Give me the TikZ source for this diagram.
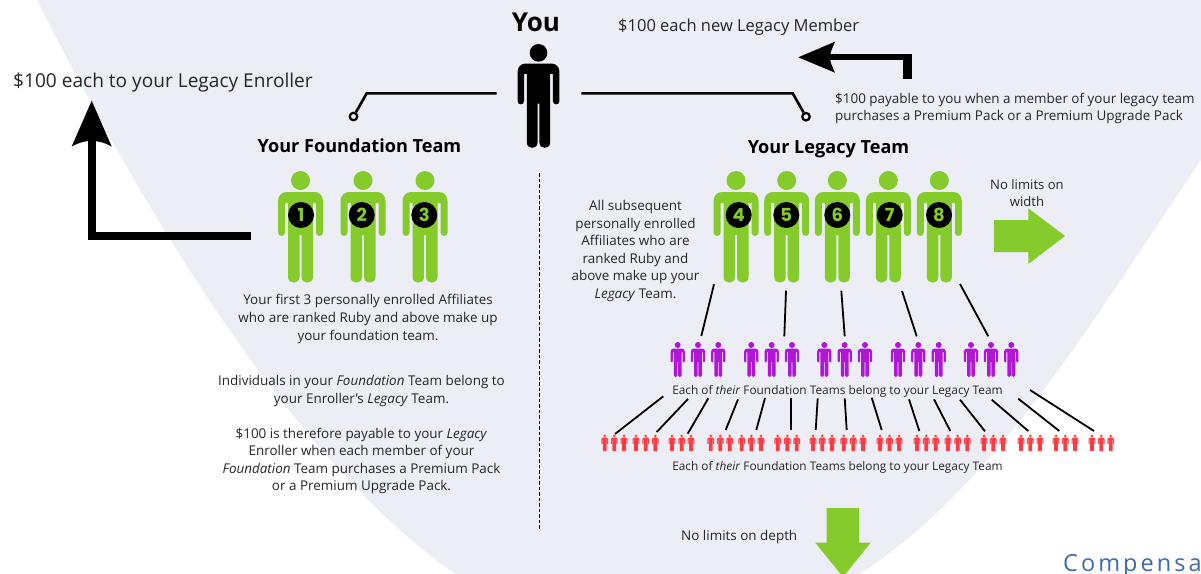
\documentclass[tikz,border=0pt]{standalone}
\usepackage{fontspec}
\setmainfont{Open Sans}
\newfontfamily\numfont{Poppins}
\definecolor{ink}{HTML}{262629}
\definecolor{limeg}{HTML}{84CB2B}
\definecolor{purp}{HTML}{B116D6}
\definecolor{redp}{HTML}{FF3B41}
\definecolor{bgfun}{HTML}{EDEEF5}
\definecolor{compblue}{HTML}{3F6BAE}
\newfontfamily\spaced[LetterSpace=13]{Open Sans}
\newcommand{\conn}[3]{\coordinate (#1a) at (#2);\coordinate (#1b) at (#3);\draw[tie] (#1a) -- (#1b);}
\tikzset{
  person/.pic={
    \fill[pic actions] (0,9.5) circle[radius=9.5];
    \fill[pic actions] (-14,21) -- (14,21) .. controls (19,21) and (22.5,25) .. (22.5,30) -- (22.5,61.5)
      .. controls (22.5,66) and (15.5,66) .. (15.5,61.5) -- (15.5,32) -- (12.5,32) -- (12.5,106)
      .. controls (12.5,113.5) and (1,113.5) .. (1,106) -- (1,64) -- (-1,64) -- (-1,106)
      .. controls (-1,113.5) and (-12.5,113.5) .. (-12.5,106) -- (-12.5,32) -- (-15.5,32) -- (-15.5,61.5)
      .. controls (-15.5,66) and (-22.5,66) .. (-22.5,61.5) -- (-22.5,30)
      .. controls (-22.5,25) and (-19,21) .. (-14,21) -- cycle;
  },
  tie/.style={line width=1.8pt,black},
  ring/.style={circle,draw=black,line width=2.2pt,fill=bgfun,minimum size=7.5pt,inner sep=0pt},
  wire/.style={line width=2.6pt,black},
  numdisc/.style={circle,fill=black,text=limeg,minimum size=26pt,inner sep=0pt,font=\numfont\bfseries\fontsize{18}{18}\selectfont},
  body/.style={inner sep=0pt,align=center,text=ink,font=\fontsize{13.45}{17.6}\selectfont},
  small/.style={inner sep=0pt,align=center,text=ink,font=\fontsize{11.85}{14}\selectfont},
  head/.style={inner sep=0pt,text=black,font=\bfseries\fontsize{18.1}{20}\selectfont},
  big/.style={inner sep=0pt,anchor=west,text=ink,font=\fontsize{19.1}{22}\selectfont},
}
\begin{document}
\begin{tikzpicture}[x=1pt,y=-1pt]
\useasboundingbox (0,0) rectangle (1201,573);
\fill[white] (0,0) rectangle (1201,573);
% funnel background
\begin{scope}
\clip (0,0) rectangle (1201,573);
\fill[bgfun]
  (37,0) .. controls (140,205) and (295,465) .. (457,575)
  -- (858,575) .. controls (990,490) and (1080,340) .. (1201,160)
  -- (1201,0) -- cycle;
\end{scope}

% You
\node[inner sep=0pt,text=black,font=\bfseries\fontsize{26}{28}\selectfont] (you) at (536,22) {You};
\pic[fill=black,scale=.93] (youfig) at (538.5,44) {person};

% connectors with rings
\node[ring] (ringL) at (353.5,116.5) {};
\node[ring] (ringR) at (806,116.7) {};
\coordinate (lstart) at (496.7,93.3);
\coordinate (lbend) at (366.7,93.3);
\coordinate (rstart) at (581.3,93.3);
\coordinate (rbend) at (792.7,93.3);
\draw[wire] (lstart) -- (lbend) -- (ringL);
\draw[wire] (rstart) -- (rbend) -- (ringR);

% dashed divider
\coordinate (dtop) at (539.5,173);
\coordinate (dbot) at (539.5,530);
\draw[line width=1.9pt,black,dash pattern=on 3.5pt off 2pt] (dtop) -- (dbot);

% top texts
\node[big] (t100L) at (13,82.5) {\$100 each to your Legacy Enroller};
\node[big,font=\fontsize{16.5}{18}\selectfont] (t100R) at (618,27) {\$100 each new Legacy Member};
\node[body,anchor=west,align=left,font=\fontsize{13.45}{17}\selectfont] (tpay) at (835,108)
  {\$100 payable to you when a member of your legacy team\\purchases a Premium Pack or a Premium Upgrade Pack};
\node[head] (hfound) at (359.5,146) {Your Foundation Team};
\node[head] (hlegacy) at (828.5,149) {Your Legacy Team};

% left arrow
\coordinate (la) at (250.7,236);
\coordinate (lc) at (91.7,236);
\coordinate (lt) at (91.7,132);
\draw[line width=8pt,black] (la) -- (lc) -- (lt);
\fill[black] (91.7,100.7) -- (111.7,146.5) .. controls (103,142) and (98,141) .. (91.7,141)
  .. controls (85,141) and (80,142) .. (71.7,146.5) -- cycle;

% right top arrow
\coordinate (ra) at (907.5,79.3);
\coordinate (rc) at (907.5,57);
\coordinate (rt) at (822,57);
\draw[line width=6.5pt,black] (rc) -- (rt);
\draw[line width=8.4pt,black] (ra) -- (907.5,53.8);
\fill[black] (798.3,57.3) -- (835,41.7) .. controls (831.5,50) and (830,53) .. (830,57.3)
  .. controls (830,62) and (831.5,65) .. (835,72.7) -- cycle;

% green figures
\foreach \n/\px/\dx in {1/300.5/301,2/363/361.7,3/425/424.3,4/736/738.7,5/786.7/786.3,6/837.3/837.3,7/888.3/889.7,8/939.3/939}{
  \pic[fill=limeg] (g\n) at (\px,171) {person};
  \node[numdisc] (n\n) at (\dx,215) {\n};
}

% green arrows
\fill[limeg] (994,220) -- (1028.3,220) -- (1028.3,208.3) -- (1065,236) -- (1028.3,264) -- (1028.3,252) -- (994,252) -- cycle;
\fill[limeg] (826.7,508) -- (859,508) -- (859,542.7) -- (870.7,542.7) -- (843,577) -- (815.3,542.7) -- (826.7,542.7) -- cycle;

% texts
\node[body] (tfirst) at (368,319) {Your first 3 personally enrolled Affiliates\\who are ranked Ruby and above make up\\your foundation team.};
\node[body] (tindiv) at (361.5,391) {Individuals in your \textit{Foundation} Team belong to\\your Enroller's \textit{Legacy} Team.};
\node[body] (tpayable) at (361.5,461) {\$100 is therefore payable to your \textit{Legacy}\\Enroller when each member of your\\\textit{Foundation} Team purchases a Premium Pack\\or a Premium Upgrade Pack.};
\node[body] (tsub) at (635.5,251) {All subsequent\\personally enrolled\\Affiliates who are\\ranked Ruby and\\above make up your\\\textit{Legacy} Team.};
\node[body,font=\fontsize{13.1}{16.6}\selectfont] (twidth) at (1027,193) {No limits on\\width};
\node[small] (teach1) at (837.5,391.5) {Each of \textit{their} Foundation Teams belong to your Legacy Team};
\node[small] (teach2) at (837.5,467.5) {Each of \textit{their} Foundation Teams belong to your Legacy Team};
\node[body,anchor=west] (tdepth) at (681,537) {No limits on depth};
\node[inner sep=0pt,anchor=base west,text=compblue,font=\spaced\fontsize{23.5}{26}\selectfont] (tcomp) at (1063,571) {Compensa};

% purple figures
\foreach \px [count=\i] in {677.7,698,718.3,751.3,771.7,792,824.3,844.7,865,898,918.3,938.7,971,991,1011.3}{
  \pic[fill=purp,scale=.315] (pp\i) at (\px,342) {person};
}
% red figures
\foreach \px [count=\i] in {604.7,614.3,624,636,645.7,655.3,672,681.7,691,710.7,720.3,729.7,741.7,751.3,761,777.7,787.3,796.7,813,822.3,832,843.7,853.3,863,880,889.5,899,917,926.3,935.7,948,957.7,967.3,984,993.3,1003,1021,1030.3,1040,1056,1065.3,1075,1092,1101.3,1110.7}{
  \pic[fill=redp,scale=.152] (rp\i) at (\px,434.5) {person};
}

% ties green to purple
\conn{u1}{714,284.3}{701.3,336}
\conn{u2}{786,290.7}{784.3,336.3}
\conn{u3}{841.3,290.7}{844.7,336.3}
\conn{u4}{902,291}{916.7,336.3}
\conn{u5}{960,284}{988.3,336.3}
% ties purple to red
\conn{v1}{663.3,396.3}{615,434}
\conn{v2}{688,399}{656.7,432}
\conn{v3}{708.3,398.3}{687.7,433.7}
\conn{v4}{738,399.3}{725.7,430}
\conn{v5}{765,398}{756.3,430}
\conn{v6}{791,398.3}{791,430}
\conn{v7}{817.7,398.3}{815.7,430}
\conn{v8}{844.7,398.3}{846.7,430}
\conn{v9}{871.7,397.7}{881.7,430}
\conn{v10}{909,399.3}{919.3,431}
\conn{v11}{934,399.3}{950.3,431}
\conn{v12}{960,399.7}{985,431.3}
\conn{v13}{991.7,399.7}{1028.3,431}
\conn{v14}{1018.3,398.7}{1059.3,431}
\conn{v15}{1030,390}{1094,431}
\end{tikzpicture}
\end{document}
